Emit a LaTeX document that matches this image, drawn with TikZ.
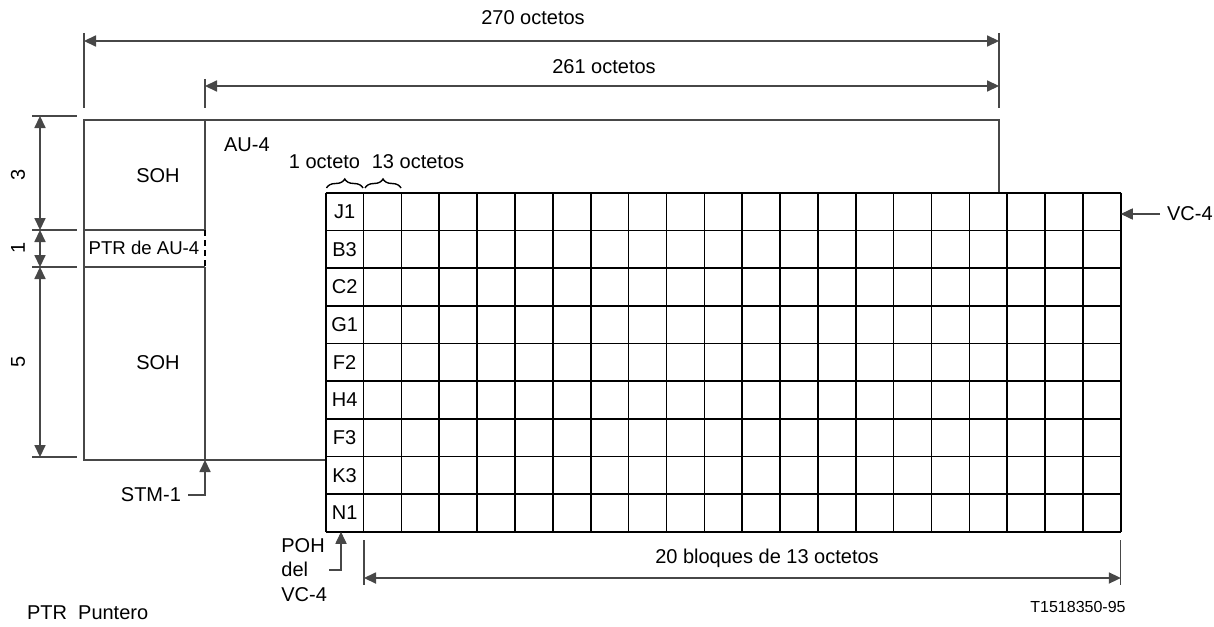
\documentclass[tikz,border=0pt]{standalone}
\usepackage{fontspec}
\setmainfont{Liberation Sans}
\usetikzlibrary{arrows.meta,decorations.pathreplacing}

\begin{document}
\begin{tikzpicture}[x=0.5pt,y=-0.5pt,>={Triangle[length=6pt,width=5.6pt]},
  font=\fontsize{10}{12.2}\selectfont,
  thinline/.style={black!72,line width=0.55pt},
  cellline/.style={black,line width=0.8pt},
  dimline/.style={thinline,<->},
  lbl/.style={inner sep=1pt}]
\useasboundingbox (0,0) rectangle (1214,626);
\def\cw{37.86}\def\ch{37.67}
% STM-1 frame and AU-4
\draw[thinline] (325.7,460) -- (84,460) -- (84,120) -- (999,120) -- (999,192.7);
\draw[thinline] (84,230) -- (205,230) (84,267) -- (205,267);
\draw[thinline] (205,120) -- (205,230) (205,267) -- (205,460);
\draw[black,line width=0.9pt,dash pattern=on 3pt off 2pt] (205,230) -- (205,267);
\node (soha) at (158,176) {SOH};
\node (ptr) at (144,248) {\fontsize{9.3}{11}\selectfont PTR de AU-4};
\node (sohb) at (158,363) {SOH};
\node[anchor=west] (au) at (217,145) {AU-4};
% VC-4 grid
\foreach \i in {0,...,21}
  \draw[cellline] (325.7+\i*\cw,192.7) -- (325.7+\i*\cw,531.8);
\foreach \j in {0,...,9}
  \draw[cellline] (325.7,192.7+\j*\ch) -- (1120.8,192.7+\j*\ch);
\foreach \lab [count=\j from 0] in {J1,B3,C2,G1,F2,H4,F3,K3,N1}
  \node (c\lab) at (344.6,192.7+\j*\ch+0.5*\ch) {\lab};
% braces
\draw[black,line width=0.7pt,decorate,decoration={brace,amplitude=4.5pt}] (326.5,188) -- (363,188);
\draw[black,line width=0.7pt,decorate,decoration={brace,amplitude=4.5pt}] (365,188) -- (401,188);
\node (one) at (324.5,162) {1 octeto};
\node (thirteen) at (418,162) {13 octetos};
% top dimensions
\draw[thinline] (84,33) -- (84,108) (205,79) -- (205,108) (999,33) -- (999,108);
\draw[dimline] (84,41) -- (999,41);
\draw[dimline] (205,86) -- (999,86);
\node (w270) at (533,18) {270 octetos};
\node (w261) at (604,67) {261 octetos};
% row dimensions
\draw[thinline] (32,116) -- (77,116) (32,230) -- (77,230) (32,267) -- (77,267) (32,457) -- (77,457);
\draw[dimline] (40,116) -- (40,230);
\draw[dimline] (40,230) -- (40,267);
\draw[dimline] (40,267) -- (40,457);
\node[rotate=90] (r3) at (18,175) {3};
\node[rotate=90] (r1) at (18,248) {1};
\node[rotate=90] (r5) at (18,362) {5};
% bottom dimension
\draw[thinline] (364,540) -- (364,585) (1120.8,540) -- (1120.8,585);
\draw[dimline] (364,578) -- (1120.8,578);
\node (blocks) at (767,558) {20 bloques de 13 octetos};
% pointers
\coordinate (stmfoot) at (205,460);
\coordinate (pohfoot) at (341,531.8);
\coordinate (vcright) at (1120.8,214);
\node[anchor=east] (stm) at (188,495) {STM-1};
\draw[thinline,->] (stm.east) -| (stmfoot);
\node[lbl,align=left,anchor=west] (poh) at (279,570) {POH\\del\\VC-4};
\draw[thinline,->] (poh.east) -| (pohfoot);
\node[anchor=west] (vc) at (1160,214) {VC-4};
\draw[thinline,->] (vc.west) -- (vcright);
% notes
\node[anchor=west] (note) at (20,613) {PTR\ \ Puntero};
\node (ref) at (1078,607) {\fontsize{8}{10}\selectfont T1518350-95};
\end{tikzpicture}
\end{document}
